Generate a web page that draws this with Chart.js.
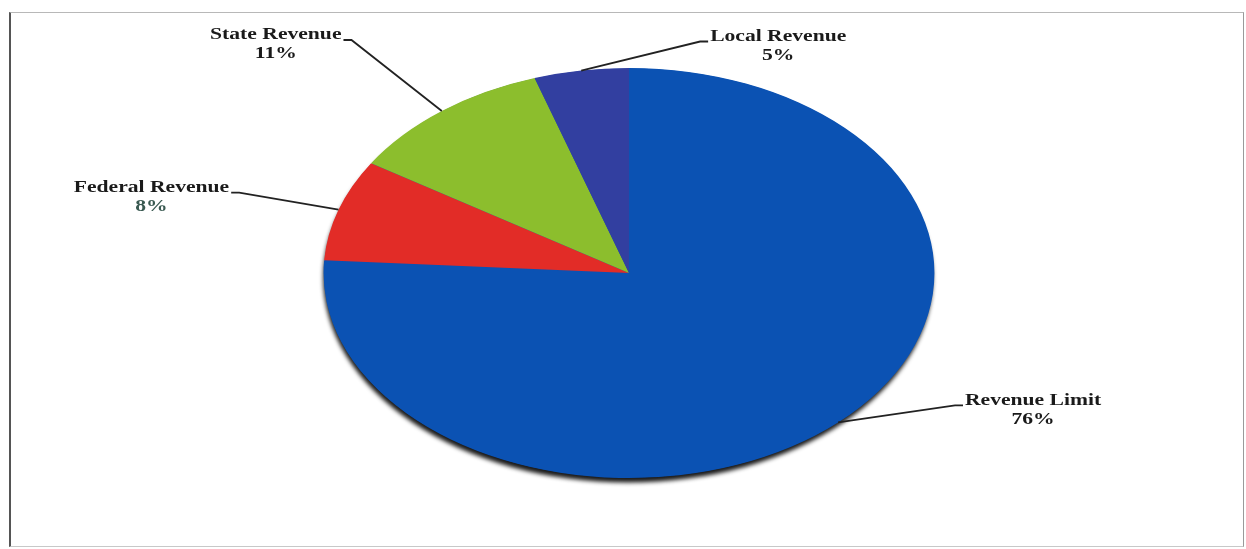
<!DOCTYPE html>
<html>
<head>
<meta charset="utf-8">
<script src="https://cdn.jsdelivr.net/npm/chart.js@4/dist/chart.umd.min.js"></script>
<style>
  html, body { margin: 0; padding: 0; background: #fff; }
  #wrap { position: relative; width: 1246px; height: 549px; }
  #frame {
    position: absolute; left: 9px; top: 12px; width: 1232px; height: 533px;
    border-top: 1px solid #b8b8b8; border-right: 1px solid #9a9a9a;
    border-bottom: 1px solid #c8c8c8; border-left: 2px solid #555;
  }
  canvas { position: absolute; left: 0; top: 0; }
</style>
</head>
<body>
<div id="wrap">
  <div id="frame"></div>
  <canvas id="pie"></canvas>
</div>
<script>
// revenue shares, clockwise from 12 o'clock
const categories = ['Revenue Limit', 'Federal Revenue', 'State Revenue', 'Local Revenue'];
const shares = [76, 8, 11, 5];
const sliceColors = ['#0b52b3', '#e22c27', '#8cbe2d', '#323fa0'];

// where each label's first line sits, relative to the slice's edge point
const labelOffsets = [[195, -22], [-187, -22], [-166, -76], [197, -34]];
const percentColors = ['#1a1a1a', '#3a5a52', '#1a1a1a', '#1a1a1a'];

const stretchX = 1.49;   // the pie is drawn as a wide ellipse
const textStretch = 1.35;
const labelFont = 'bold 16px "Liberation Serif", "Times New Roman", serif';

function stretchedText(ctx, text, x, y, color) {
  ctx.save();
  ctx.translate(x, y);
  ctx.scale(textStretch, 1);
  ctx.fillStyle = color;
  ctx.fillText(text, 0, 0);
  ctx.restore();
}

const ellipsePie = {
  id: 'ellipsePie',
  beforeDatasetsDraw(chart) {
    const ctx = chart.ctx;
    const first = chart.getDatasetMeta(0).data[0];
    const { x, y, outerRadius } = first;
    ctx.save();
    ctx.translate(x, y);
    ctx.scale(stretchX, 1);
    ctx.translate(-x, -y);
    // dark drop shadow under the disc
    ctx.save();
    ctx.shadowColor = 'rgba(0,0,0,0.9)';
    ctx.shadowBlur = 4;
    ctx.shadowOffsetX = -1;
    ctx.shadowOffsetY = 5;
    ctx.beginPath();
    ctx.arc(x, y, outerRadius - 0.5, 0, Math.PI * 2);
    ctx.fillStyle = sliceColors[0];
    ctx.fill();
    ctx.restore();
  },
  afterDatasetsDraw(chart) {
    const ctx = chart.ctx;
    ctx.restore();

    const arcs = chart.getDatasetMeta(0).data;
    ctx.save();
    ctx.font = labelFont;
    ctx.textAlign = 'center';
    ctx.textBaseline = 'middle';
    arcs.forEach((arc, i) => {
      const mid = (arc.startAngle + arc.endAngle) / 2;
      const ax = arc.x + stretchX * arc.outerRadius * Math.cos(mid);
      const ay = arc.y + arc.outerRadius * Math.sin(mid);
      const tx = ax + labelOffsets[i][0];
      const ty = ay + labelOffsets[i][1];
      const w = ctx.measureText(categories[i]).width * textStretch;

      // leader line: slice edge -> elbow -> end of the label's first line
      const toRight = ax > tx;
      const endX = toRight ? tx + w / 2 + 2 : tx - w / 2 - 2;
      const elbowX = toRight ? endX + 8 : endX - 8;
      const lineY = ty + 5;
      ctx.beginPath();
      ctx.moveTo(ax, ay);
      ctx.lineTo(elbowX, lineY);
      ctx.lineTo(endX, lineY);
      ctx.strokeStyle = '#222';
      ctx.lineWidth = 1.8;
      ctx.stroke();

      stretchedText(ctx, categories[i], tx, ty, '#1a1a1a');
      stretchedText(ctx, shares[i] + '%', tx, ty + 19, percentColors[i]);
    });
    ctx.restore();
  }
};

new Chart(document.getElementById('pie'), {
  type: 'pie',
  data: {
    labels: categories,
    datasets: [{
      data: shares,
      backgroundColor: sliceColors,
      borderWidth: 0,
      hoverOffset: 0,
      offset: 0
    }]
  },
  options: {
    responsive: true,
    maintainAspectRatio: false,
    animation: false,
    events: [],
    layout: { padding: { top: 68, bottom: 71, left: 424, right: 412 } },
    plugins: { legend: { display: false }, tooltip: { enabled: false } }
  },
  plugins: [ellipsePie]
});
</script>
</body>
</html>
